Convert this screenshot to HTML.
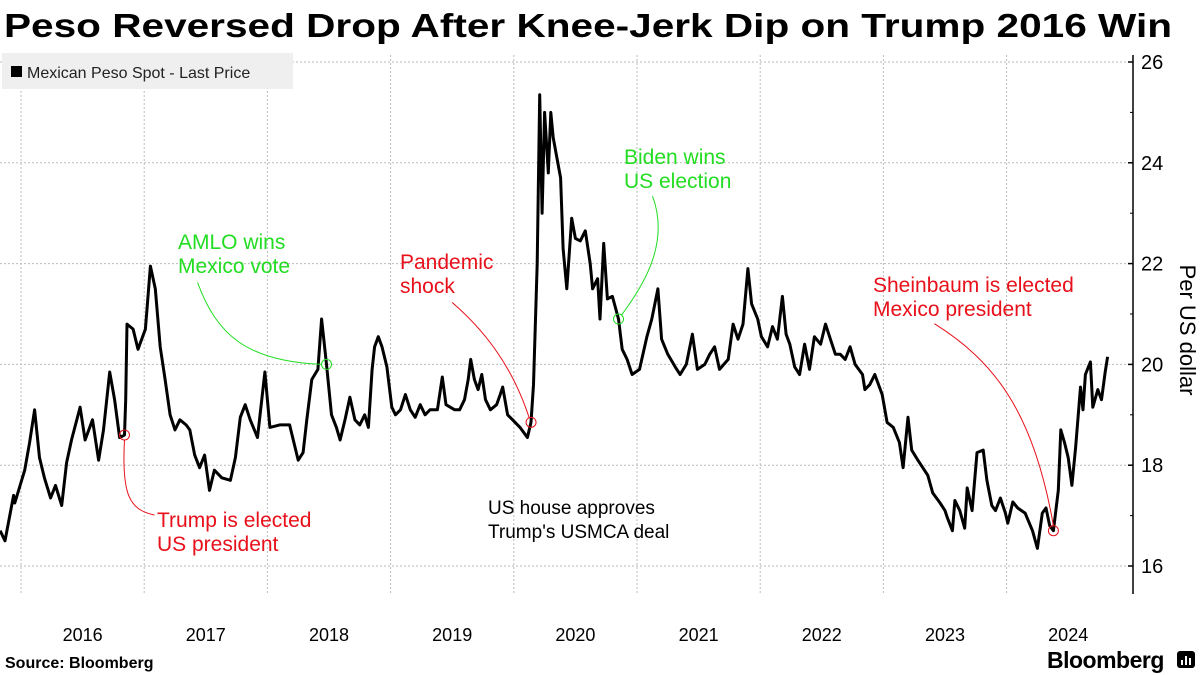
<!DOCTYPE html>
<html><head><meta charset="utf-8"><style>
html,body{margin:0;padding:0;background:#fff;}
svg{display:block;font-family:"Liberation Sans",Verdana,sans-serif;}
</style></head><body>
<svg id="chart" width="1200" height="675" viewBox="0 0 1200 675">
  <text x="4" y="37" font-size="33" font-weight="bold" textLength="1168" lengthAdjust="spacingAndGlyphs">Peso Reversed Drop After Knee-Jerk Dip on Trump 2016 Win</text>
  <g id="grid"></g>
  <g id="axes"></g>
  <rect x="2" y="53" width="291" height="36" fill="#efefef"/>
  <rect x="11" y="66" width="11" height="11" fill="#000"/>
  <text x="27" y="78" font-size="16" fill="#222">Mexican Peso Spot - Last Price</text>
  <g id="series"></g>
  <g id="annot"></g>
  <text transform="translate(1180,330) rotate(90)" font-size="22" text-anchor="middle">Per US dollar</text>
  <text x="5" y="668" font-size="16" font-weight="bold">Source: Bloomberg</text>
  <text x="1047" y="668" font-size="23" font-weight="bold" letter-spacing="-0.5">Bloomberg</text>
  <g>
    <rect x="1177" y="651" width="18" height="17" rx="3" fill="#000"/>
    <rect x="1181" y="660" width="2" height="5" fill="#fff"/><rect x="1185" y="656" width="2" height="9" fill="#fff"/><rect x="1189" y="658" width="2" height="7" fill="#fff"/>
  </g>
</svg>
<script>
const dates=[2015.83,2015.87,2015.94,2015.95,2016.03,2016.07,2016.11,2016.15,2016.19,2016.24,2016.28,2016.33,2016.37,2016.41,2016.48,2016.52,2016.58,2016.63,2016.67,2016.72,2016.76,2016.80,2016.84,2016.85,2016.86,2016.91,2016.95,2017.01,2017.05,2017.09,2017.13,2017.17,2017.21,2017.25,2017.29,2017.34,2017.37,2017.41,2017.45,2017.49,2017.53,2017.57,2017.63,2017.70,2017.74,2017.78,2017.82,2017.86,2017.92,2017.98,2018.02,2018.10,2018.18,2018.25,2018.29,2018.32,2018.36,2018.41,2018.44,2018.48,2018.52,2018.56,2018.59,2018.63,2018.67,2018.71,2018.75,2018.79,2018.82,2018.85,2018.87,2018.90,2018.93,2018.97,2019.01,2019.04,2019.08,2019.12,2019.16,2019.20,2019.24,2019.28,2019.32,2019.38,2019.42,2019.45,2019.52,2019.56,2019.60,2019.63,2019.65,2019.68,2019.71,2019.74,2019.77,2019.81,2019.86,2019.89,2019.91,2019.95,2019.99,2020.05,2020.11,2020.14,2020.16,2020.19,2020.21,2020.23,2020.25,2020.28,2020.30,2020.32,2020.35,2020.38,2020.40,2020.43,2020.47,2020.50,2020.54,2020.58,2020.62,2020.64,2020.68,2020.70,2020.73,2020.76,2020.80,2020.85,2020.88,2020.92,2020.96,2021.02,2021.08,2021.12,2021.17,2021.20,2021.25,2021.31,2021.35,2021.40,2021.45,2021.49,2021.55,2021.59,2021.63,2021.67,2021.74,2021.78,2021.82,2021.86,2021.90,2021.93,2021.98,2022.01,2022.06,2022.10,2022.14,2022.18,2022.21,2022.24,2022.28,2022.32,2022.36,2022.40,2022.44,2022.49,2022.53,2022.57,2022.61,2022.65,2022.69,2022.73,2022.77,2022.83,2022.85,2022.89,2022.93,2022.99,2023.03,2023.08,2023.13,2023.16,2023.20,2023.23,2023.28,2023.32,2023.36,2023.40,2023.46,2023.50,2023.52,2023.56,2023.58,2023.62,2023.66,2023.68,2023.72,2023.76,2023.81,2023.84,2023.88,2023.91,2023.95,2023.99,2024.01,2024.05,2024.09,2024.15,2024.21,2024.25,2024.29,2024.32,2024.35,2024.38,2024.42,2024.44,2024.47,2024.50,2024.53,2024.56,2024.60,2024.62,2024.64,2024.68,2024.70,2024.74,2024.77,2024.80,2024.82];
const values=[16.7,16.5,17.4,17.25,17.9,18.45,19.1,18.15,17.75,17.35,17.6,17.2,18.05,18.5,19.15,18.5,18.9,18.1,18.7,19.85,19.3,18.55,18.6,19.3,20.8,20.7,20.3,20.7,21.95,21.5,20.35,19.7,19.0,18.7,18.9,18.8,18.7,18.2,17.95,18.2,17.5,17.9,17.75,17.7,18.15,18.95,19.2,18.9,18.55,19.85,18.75,18.8,18.8,18.1,18.25,18.9,19.7,19.9,20.9,20.0,19.0,18.75,18.5,18.9,19.35,18.9,18.8,19.0,18.75,19.9,20.35,20.55,20.35,19.95,19.15,19.0,19.1,19.4,19.1,18.95,19.2,19.0,19.1,19.1,19.75,19.2,19.1,19.1,19.3,19.7,20.1,19.7,19.5,19.8,19.3,19.1,19.2,19.4,19.55,19.0,18.9,18.75,18.55,18.85,19.6,22.0,25.35,23.0,25.0,23.8,25.0,24.5,24.1,23.7,22.3,21.5,22.9,22.5,22.45,22.65,22.0,21.5,21.7,20.9,22.4,21.3,21.35,20.9,20.3,20.1,19.8,19.9,20.55,20.9,21.5,20.5,20.2,19.95,19.8,20.0,20.6,19.9,20.0,20.2,20.35,19.9,20.1,20.8,20.5,20.8,21.9,21.2,20.9,20.55,20.35,20.75,20.5,21.35,20.6,20.4,19.95,19.8,20.4,19.9,20.55,20.4,20.8,20.5,20.2,20.2,20.1,20.35,20.0,19.8,19.5,19.6,19.8,19.4,18.85,18.75,18.45,17.95,18.95,18.3,18.1,17.95,17.8,17.45,17.25,17.1,16.95,16.7,17.3,17.1,16.75,17.55,17.1,18.25,18.3,17.7,17.2,17.1,17.35,17.05,16.85,17.27,17.15,17.05,16.7,16.35,17.05,17.15,16.8,16.7,17.5,18.7,18.45,18.15,17.6,18.35,19.55,19.1,19.8,20.05,19.15,19.5,19.3,19.85,20.15];
const yTicks=[16,18,20,22,24,26];
const yMinor=[17,19,21,23,25];
const yearLabels=["2016","2017","2018","2019","2020","2021","2022","2023","2024"];
const evDates=[2016.84,2018.48,2020.14,2020.85,2024.38];
const evValues=[18.6,20.0,18.85,20.9,16.7];

const NS="http://www.w3.org/2000/svg";
function X(t){return 21+(t-2016)*123.2;}
function Y(v){return 566-(v-16)*50.4;}
function mk(tag,attrs,parent){const e=document.createElementNS(NS,tag);for(const k in attrs)e.setAttribute(k,attrs[k]);parent.appendChild(e);return e;}
const grid=document.getElementById('grid'),axes=document.getElementById('axes'),series=document.getElementById('series'),annot=document.getElementById('annot');

yTicks.forEach(v=>{
  const l=mk('line',{x1:0,x2:1133,y1:Y(v),y2:Y(v),stroke:'#bbb','stroke-width':1,'stroke-dasharray':'2,2'},grid);
  
  
  const t=mk('line',{x1:1128,x2:1133,y1:Y(v),y2:Y(v),stroke:'#000','stroke-width':1.5},axes);
  
  
  const tx=mk('text',{x:1141,y:Y(v)+7,'font-size':20},axes);tx.textContent=v;
  
  
});
yMinor.forEach(v=>{
  const t=mk('line',{x1:1130,x2:1133,y1:Y(v),y2:Y(v),stroke:'#000','stroke-width':1},axes);
  
  
});
yearLabels.forEach((y,i)=>{
  const yr=+y;
  const g=mk('line',{x1:X(yr),x2:X(yr),y1:55,y2:593,stroke:'#bbb','stroke-width':1,'stroke-dasharray':'2,2'},grid);
  
  
  const t=mk('text',{x:X(yr+0.5),y:641,'font-size':18,'text-anchor':'middle'},axes);t.textContent=y;
  
  
});
const ax=mk('line',{x1:1133,x2:1133,y1:55,y2:594,stroke:'#000','stroke-width':1.5},axes);



let d='';dates.forEach((t,i)=>{d+=(i?'L':'M')+X(t).toFixed(1)+','+Y(values[i]).toFixed(1);});
const p=mk('path',{d:d,fill:'none',stroke:'#000','stroke-width':3,'stroke-linejoin':'round'},series);



const RED='#e8101a',GREEN='#22dd22';
const evColors=[RED,GREEN,RED,GREEN,RED];
const evNames=['trump-2016-marker','amlo-marker','pandemic-marker','biden-marker','sheinbaum-marker'];
const leaders=[
  (cx,cy)=>`M${cx},${cy+5} C${cx-3},${cy+60} ${cx+5},${cy+75} ${cx+30},${cy+80}`,
  (cx,cy)=>`M${cx-5},${cy} C${cx-80},${cy-3} ${cx-110},${cy-30} ${cx-129},${cy-82}`,
  (cx,cy)=>`M${cx-2},${cy-5} C${cx-20},${cy-60} ${cx-50},${cy-95} ${cx-79},${cy-120}`,
  (cx,cy)=>`M${cx+3},${cy-4} C${cx+30},${cy-40} ${cx+50},${cy-80} ${cx+34},${cy-123}`,
  (cx,cy)=>`M${cx},${cy-5} C${cx-20},${cy-120} ${cx-60},${cy-170} ${cx-119},${cy-207}`
];
evDates.forEach((t,i)=>{
  const cx=X(t),cy=Y(evValues[i]);
  const c=mk('circle',{cx:cx,cy:cy,r:5,fill:'none',stroke:evColors[i],'stroke-width':1},annot);
  
  
  const l=mk('path',{d:leaders[i](cx,cy),fill:'none',stroke:evColors[i],'stroke-width':1},annot);
  
  
});
const labels=[
  {x:157,y:527,c:RED,t:['Trump is elected','US president'],n:'trump-annotation'},
  {x:178,y:249,c:GREEN,t:['AMLO wins','Mexico vote'],n:'amlo-annotation'},
  {x:400,y:269,c:RED,t:['Pandemic','shock'],n:'pandemic-annotation'},
  {x:624,y:164,c:GREEN,t:['Biden wins','US election'],n:'biden-annotation'},
  {x:873,y:292,c:RED,t:['Sheinbaum is elected','Mexico president'],n:'sheinbaum-annotation'},
  {x:488,y:514,c:'#000',t:["US house approves","Trump's USMCA deal"],n:'usmca-annotation'}
];
labels.forEach(L=>{
  const tx=mk('text',{x:L.x,y:L.y,'font-size':L.c==='#000'?19:21,fill:L.c},annot);
  
  
  L.t.forEach((s,j)=>{const ts=mk('tspan',{x:L.x,dy:j?24:0},tx);ts.textContent=s;});
});
</script>
</body></html>
